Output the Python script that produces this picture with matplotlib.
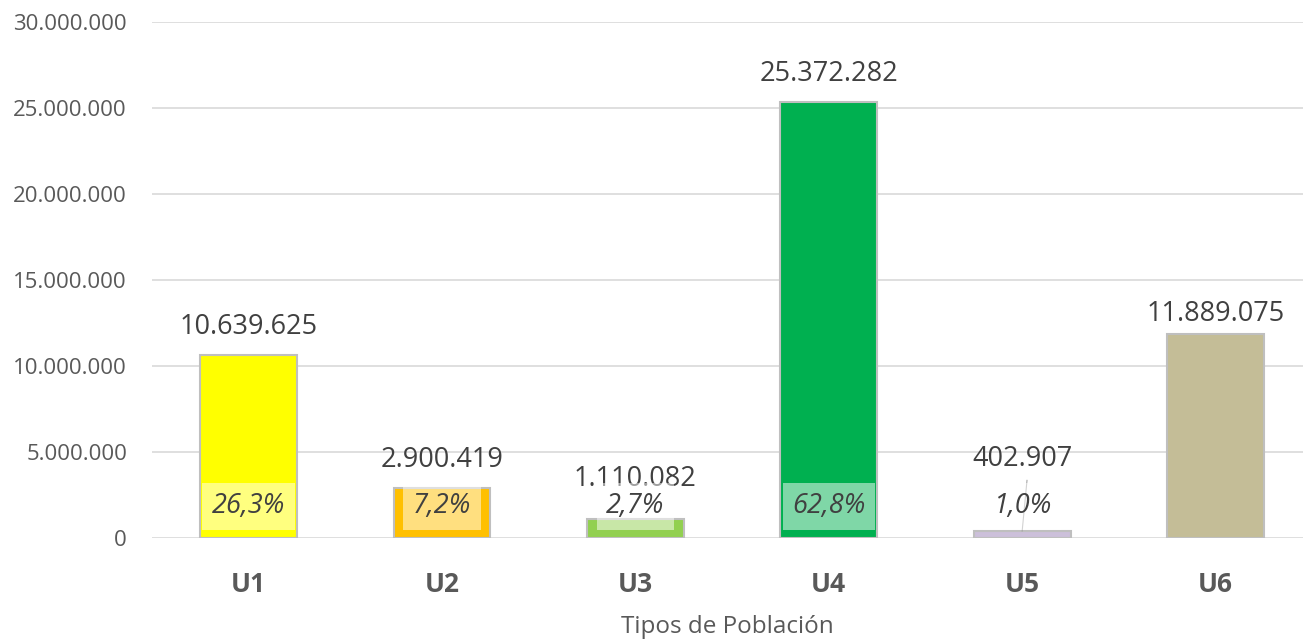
import matplotlib
matplotlib.use("Agg")
import matplotlib.pyplot as plt
from matplotlib.ticker import FuncFormatter

categories = ["U1", "U2", "U3", "U4", "U5", "U6"]
values = [10639625, 2900419, 1110082, 25372282, 402907, 11889075]
percent_labels = ["26,3%", "7,2%", "2,7%", "62,8%", "1,0%", None]
y_ticks = [0, 5000000, 10000000, 15000000, 20000000, 25000000, 30000000]
colors = ["#FFFF00", "#FFC000", "#92D050", "#00B050", "#CCC0DA", "#C4BD97"]

plt.rcParams['font.family'] = ['Open Sans', 'DejaVu Sans']

def fmt(v):
    return f"{int(v):,}".replace(",", ".")

fig = plt.figure(figsize=(13.03, 6.41), dpi=100)
ax = fig.add_axes([152/1303, 1-538/641, 1-152/1303, (538-22)/641])

x = list(range(len(categories)))
bars = ax.bar(x, values, width=0.5, color=colors, edgecolor="#BFBFBF", linewidth=1.5, zorder=3)

ax.set_ylim(0, 30000000)
ax.set_xlim(-0.499, 5.452)
ax.set_yticks(y_ticks)
ax.yaxis.set_major_formatter(FuncFormatter(lambda v, p: fmt(v)))
ax.grid(axis='y', color="#D9D9D9", linewidth=1.2, zorder=0)
for s in ax.spines.values():
    s.set_visible(False)
ax.tick_params(axis='y', length=0, pad=18, labelsize=16, labelcolor="#595959")
ax.tick_params(axis='x', length=0, pad=24, labelsize=19, labelcolor="#595959")
ax.set_xticks(x)
ax.set_xticklabels(categories, fontweight='bold')
ax.set_xlabel("Tipos de Población", fontsize=17.5, color="#595959", labelpad=12)

# value label offsets (points above bar top)
value_offsets = [10, 10, 19, 10, 42, 4]
for xi, v, off in zip(x, values, value_offsets):
    ax.annotate(fmt(v), (xi, v), xytext=(0, off), textcoords="offset points",
                ha="center", va="bottom", fontsize=19.5, color="#404040", zorder=5)

# leader line for U5
ax.plot([x[4] + 0.025, x[4]], [3350000, values[4]], color="#A6A6A6", linewidth=0.8, zorder=4)

# percentage labels inside bars
for xi, p in zip(x, percent_labels):
    if p is None:
        continue
    ax.text(xi, 1850000, p, ha="center", va="center", fontsize=19.5, style="italic",
            color="#404040", zorder=6,
            bbox=dict(boxstyle="square,pad=0.35", facecolor="white", alpha=0.5, edgecolor="none"))

fig.savefig("out.png", dpi=100)
